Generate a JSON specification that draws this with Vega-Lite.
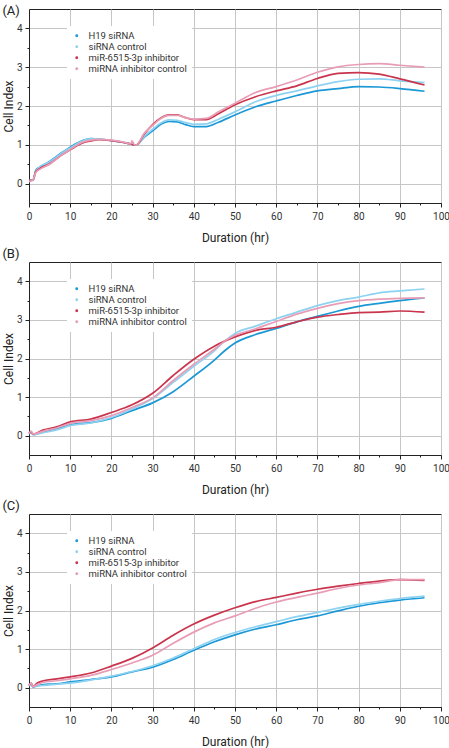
{
"$schema": "https://vega.github.io/schema/vega-lite/v6.json",
"padding": {"left": 1, "top": 4, "right": 0, "bottom": 0},
"background": "white",
"config": {
  "font": "Roboto",
  "view": {"stroke": "#222222", "strokeWidth": 1},
  "axis": {"domainColor": "#222222", "tickColor": "#222222", "gridColor": "#c6c6c6", "gridWidth": 1, "labelColor": "#333333", "labelFontSize": 10, "titleFontSize": 12, "titleFontWeight": "normal", "titleColor": "#222222", "labelFont": "Roboto", "titleFont": "Roboto"},
  "legend": {"labelFont": "Roboto"},
  "title": {"font": "Roboto", "fontWeight": "normal", "fontSize": 13, "color": "#222222"}
},
"spacing": 3,
"resolve": {"legend": {"color": "independent"}},
"data": {"values": [
{"p":"A","s":"H19 siRNA","t":0,"v":0.08},{"p":"A","s":"H19 siRNA","t":1,"v":0.09},{"p":"A","s":"H19 siRNA","t":1.6,"v":0.33},{"p":"A","s":"H19 siRNA","t":2.5,"v":0.42},{"p":"A","s":"H19 siRNA","t":5,"v":0.57},{"p":"A","s":"H19 siRNA","t":8,"v":0.8},{"p":"A","s":"H19 siRNA","t":10,"v":0.94},{"p":"A","s":"H19 siRNA","t":13,"v":1.11},{"p":"A","s":"H19 siRNA","t":15,"v":1.16},{"p":"A","s":"H19 siRNA","t":17,"v":1.15},{"p":"A","s":"H19 siRNA","t":20,"v":1.11},{"p":"A","s":"H19 siRNA","t":23,"v":1.06},{"p":"A","s":"H19 siRNA","t":25,"v":1.01},{"p":"A","s":"H19 siRNA","t":26,"v":0.99},{"p":"A","s":"H19 siRNA","t":28,"v":1.2},{"p":"A","s":"H19 siRNA","t":30,"v":1.36},{"p":"A","s":"H19 siRNA","t":32,"v":1.53},{"p":"A","s":"H19 siRNA","t":34,"v":1.6},{"p":"A","s":"H19 siRNA","t":36,"v":1.59},{"p":"A","s":"H19 siRNA","t":38,"v":1.52},{"p":"A","s":"H19 siRNA","t":40,"v":1.47},{"p":"A","s":"H19 siRNA","t":43,"v":1.47},{"p":"A","s":"H19 siRNA","t":46,"v":1.58},{"p":"A","s":"H19 siRNA","t":50,"v":1.77},{"p":"A","s":"H19 siRNA","t":55,"v":1.98},{"p":"A","s":"H19 siRNA","t":60,"v":2.13},{"p":"A","s":"H19 siRNA","t":65,"v":2.27},{"p":"A","s":"H19 siRNA","t":70,"v":2.39},{"p":"A","s":"H19 siRNA","t":75,"v":2.45},{"p":"A","s":"H19 siRNA","t":80,"v":2.5},{"p":"A","s":"H19 siRNA","t":85,"v":2.49},{"p":"A","s":"H19 siRNA","t":90,"v":2.45},{"p":"A","s":"H19 siRNA","t":96,"v":2.38},
{"p":"A","s":"siRNA control","t":0,"v":0.08},{"p":"A","s":"siRNA control","t":1,"v":0.09},{"p":"A","s":"siRNA control","t":1.6,"v":0.3},{"p":"A","s":"siRNA control","t":2.5,"v":0.42},{"p":"A","s":"siRNA control","t":5,"v":0.56},{"p":"A","s":"siRNA control","t":8,"v":0.79},{"p":"A","s":"siRNA control","t":10,"v":0.92},{"p":"A","s":"siRNA control","t":13,"v":1.1},{"p":"A","s":"siRNA control","t":15,"v":1.16},{"p":"A","s":"siRNA control","t":17,"v":1.15},{"p":"A","s":"siRNA control","t":20,"v":1.11},{"p":"A","s":"siRNA control","t":23,"v":1.06},{"p":"A","s":"siRNA control","t":25,"v":1.01},{"p":"A","s":"siRNA control","t":26,"v":0.99},{"p":"A","s":"siRNA control","t":28,"v":1.22},{"p":"A","s":"siRNA control","t":30,"v":1.4},{"p":"A","s":"siRNA control","t":32,"v":1.56},{"p":"A","s":"siRNA control","t":34,"v":1.64},{"p":"A","s":"siRNA control","t":36,"v":1.63},{"p":"A","s":"siRNA control","t":38,"v":1.57},{"p":"A","s":"siRNA control","t":40,"v":1.53},{"p":"A","s":"siRNA control","t":43,"v":1.54},{"p":"A","s":"siRNA control","t":46,"v":1.66},{"p":"A","s":"siRNA control","t":50,"v":1.85},{"p":"A","s":"siRNA control","t":55,"v":2.11},{"p":"A","s":"siRNA control","t":60,"v":2.27},{"p":"A","s":"siRNA control","t":65,"v":2.39},{"p":"A","s":"siRNA control","t":70,"v":2.52},{"p":"A","s":"siRNA control","t":75,"v":2.63},{"p":"A","s":"siRNA control","t":80,"v":2.69},{"p":"A","s":"siRNA control","t":85,"v":2.7},{"p":"A","s":"siRNA control","t":90,"v":2.65},{"p":"A","s":"siRNA control","t":96,"v":2.6},
{"p":"A","s":"miR-6515-3p inhibitor","t":0,"v":0.08},{"p":"A","s":"miR-6515-3p inhibitor","t":1,"v":0.1},{"p":"A","s":"miR-6515-3p inhibitor","t":1.6,"v":0.3},{"p":"A","s":"miR-6515-3p inhibitor","t":2.5,"v":0.38},{"p":"A","s":"miR-6515-3p inhibitor","t":5,"v":0.51},{"p":"A","s":"miR-6515-3p inhibitor","t":8,"v":0.74},{"p":"A","s":"miR-6515-3p inhibitor","t":10,"v":0.87},{"p":"A","s":"miR-6515-3p inhibitor","t":13,"v":1.05},{"p":"A","s":"miR-6515-3p inhibitor","t":15,"v":1.1},{"p":"A","s":"miR-6515-3p inhibitor","t":17,"v":1.13},{"p":"A","s":"miR-6515-3p inhibitor","t":20,"v":1.11},{"p":"A","s":"miR-6515-3p inhibitor","t":23,"v":1.06},{"p":"A","s":"miR-6515-3p inhibitor","t":25,"v":1.01},{"p":"A","s":"miR-6515-3p inhibitor","t":26,"v":0.99},{"p":"A","s":"miR-6515-3p inhibitor","t":28,"v":1.28},{"p":"A","s":"miR-6515-3p inhibitor","t":30,"v":1.52},{"p":"A","s":"miR-6515-3p inhibitor","t":32,"v":1.69},{"p":"A","s":"miR-6515-3p inhibitor","t":34,"v":1.77},{"p":"A","s":"miR-6515-3p inhibitor","t":36,"v":1.77},{"p":"A","s":"miR-6515-3p inhibitor","t":38,"v":1.7},{"p":"A","s":"miR-6515-3p inhibitor","t":40,"v":1.65},{"p":"A","s":"miR-6515-3p inhibitor","t":43,"v":1.65},{"p":"A","s":"miR-6515-3p inhibitor","t":46,"v":1.8},{"p":"A","s":"miR-6515-3p inhibitor","t":50,"v":2.03},{"p":"A","s":"miR-6515-3p inhibitor","t":55,"v":2.24},{"p":"A","s":"miR-6515-3p inhibitor","t":60,"v":2.39},{"p":"A","s":"miR-6515-3p inhibitor","t":65,"v":2.52},{"p":"A","s":"miR-6515-3p inhibitor","t":70,"v":2.71},{"p":"A","s":"miR-6515-3p inhibitor","t":75,"v":2.84},{"p":"A","s":"miR-6515-3p inhibitor","t":80,"v":2.86},{"p":"A","s":"miR-6515-3p inhibitor","t":85,"v":2.82},{"p":"A","s":"miR-6515-3p inhibitor","t":90,"v":2.7},{"p":"A","s":"miR-6515-3p inhibitor","t":96,"v":2.54},
{"p":"A","s":"miRNA inhibitor control","t":0,"v":0.05},{"p":"A","s":"miRNA inhibitor control","t":1,"v":0.1},{"p":"A","s":"miRNA inhibitor control","t":1.6,"v":0.28},{"p":"A","s":"miRNA inhibitor control","t":2.5,"v":0.36},{"p":"A","s":"miRNA inhibitor control","t":5,"v":0.5},{"p":"A","s":"miRNA inhibitor control","t":8,"v":0.74},{"p":"A","s":"miRNA inhibitor control","t":10,"v":0.88},{"p":"A","s":"miRNA inhibitor control","t":13,"v":1.07},{"p":"A","s":"miRNA inhibitor control","t":15,"v":1.12},{"p":"A","s":"miRNA inhibitor control","t":17,"v":1.14},{"p":"A","s":"miRNA inhibitor control","t":20,"v":1.12},{"p":"A","s":"miRNA inhibitor control","t":23,"v":1.07},{"p":"A","s":"miRNA inhibitor control","t":24.7,"v":1.02},{"p":"A","s":"miRNA inhibitor control","t":25,"v":1.1},{"p":"A","s":"miRNA inhibitor control","t":25.5,"v":1.01},{"p":"A","s":"miRNA inhibitor control","t":26,"v":0.99},{"p":"A","s":"miRNA inhibitor control","t":28,"v":1.3},{"p":"A","s":"miRNA inhibitor control","t":30,"v":1.5},{"p":"A","s":"miRNA inhibitor control","t":32,"v":1.68},{"p":"A","s":"miRNA inhibitor control","t":34,"v":1.76},{"p":"A","s":"miRNA inhibitor control","t":36,"v":1.76},{"p":"A","s":"miRNA inhibitor control","t":38,"v":1.7},{"p":"A","s":"miRNA inhibitor control","t":40,"v":1.66},{"p":"A","s":"miRNA inhibitor control","t":43,"v":1.68},{"p":"A","s":"miRNA inhibitor control","t":46,"v":1.85},{"p":"A","s":"miRNA inhibitor control","t":50,"v":2.07},{"p":"A","s":"miRNA inhibitor control","t":55,"v":2.35},{"p":"A","s":"miRNA inhibitor control","t":60,"v":2.5},{"p":"A","s":"miRNA inhibitor control","t":65,"v":2.67},{"p":"A","s":"miRNA inhibitor control","t":70,"v":2.87},{"p":"A","s":"miRNA inhibitor control","t":75,"v":3.01},{"p":"A","s":"miRNA inhibitor control","t":80,"v":3.07},{"p":"A","s":"miRNA inhibitor control","t":85,"v":3.09},{"p":"A","s":"miRNA inhibitor control","t":90,"v":3.05},{"p":"A","s":"miRNA inhibitor control","t":96,"v":3.0},
{"p":"B","s":"H19 siRNA","t":0,"v":0.05},{"p":"B","s":"H19 siRNA","t":0.5,"v":0.08},{"p":"B","s":"H19 siRNA","t":1,"v":0.03},{"p":"B","s":"H19 siRNA","t":3.5,"v":0.1},{"p":"B","s":"H19 siRNA","t":6.7,"v":0.17},{"p":"B","s":"H19 siRNA","t":10,"v":0.28},{"p":"B","s":"H19 siRNA","t":15,"v":0.34},{"p":"B","s":"H19 siRNA","t":20,"v":0.45},{"p":"B","s":"H19 siRNA","t":25,"v":0.65},{"p":"B","s":"H19 siRNA","t":30,"v":0.85},{"p":"B","s":"H19 siRNA","t":35,"v":1.14},{"p":"B","s":"H19 siRNA","t":40,"v":1.54},{"p":"B","s":"H19 siRNA","t":45,"v":1.96},{"p":"B","s":"H19 siRNA","t":47.5,"v":2.2},{"p":"B","s":"H19 siRNA","t":50,"v":2.4},{"p":"B","s":"H19 siRNA","t":55,"v":2.62},{"p":"B","s":"H19 siRNA","t":60,"v":2.78},{"p":"B","s":"H19 siRNA","t":65,"v":2.95},{"p":"B","s":"H19 siRNA","t":70,"v":3.09},{"p":"B","s":"H19 siRNA","t":75,"v":3.23},{"p":"B","s":"H19 siRNA","t":80,"v":3.35},{"p":"B","s":"H19 siRNA","t":85,"v":3.43},{"p":"B","s":"H19 siRNA","t":90,"v":3.5},{"p":"B","s":"H19 siRNA","t":96,"v":3.57},
{"p":"B","s":"siRNA control","t":0,"v":0.05},{"p":"B","s":"siRNA control","t":0.5,"v":0.08},{"p":"B","s":"siRNA control","t":1,"v":0.03},{"p":"B","s":"siRNA control","t":3.5,"v":0.08},{"p":"B","s":"siRNA control","t":6.7,"v":0.15},{"p":"B","s":"siRNA control","t":10,"v":0.26},{"p":"B","s":"siRNA control","t":15,"v":0.33},{"p":"B","s":"siRNA control","t":20,"v":0.47},{"p":"B","s":"siRNA control","t":25,"v":0.69},{"p":"B","s":"siRNA control","t":30,"v":0.96},{"p":"B","s":"siRNA control","t":35,"v":1.38},{"p":"B","s":"siRNA control","t":40,"v":1.8},{"p":"B","s":"siRNA control","t":45,"v":2.2},{"p":"B","s":"siRNA control","t":47.5,"v":2.45},{"p":"B","s":"siRNA control","t":50,"v":2.65},{"p":"B","s":"siRNA control","t":55,"v":2.84},{"p":"B","s":"siRNA control","t":60,"v":3.03},{"p":"B","s":"siRNA control","t":65,"v":3.2},{"p":"B","s":"siRNA control","t":70,"v":3.37},{"p":"B","s":"siRNA control","t":75,"v":3.5},{"p":"B","s":"siRNA control","t":80,"v":3.59},{"p":"B","s":"siRNA control","t":85,"v":3.7},{"p":"B","s":"siRNA control","t":90,"v":3.75},{"p":"B","s":"siRNA control","t":96,"v":3.8},
{"p":"B","s":"miR-6515-3p inhibitor","t":0,"v":0.06},{"p":"B","s":"miR-6515-3p inhibitor","t":0.5,"v":0.1},{"p":"B","s":"miR-6515-3p inhibitor","t":1,"v":0.04},{"p":"B","s":"miR-6515-3p inhibitor","t":3.5,"v":0.15},{"p":"B","s":"miR-6515-3p inhibitor","t":6.7,"v":0.23},{"p":"B","s":"miR-6515-3p inhibitor","t":10,"v":0.36},{"p":"B","s":"miR-6515-3p inhibitor","t":15,"v":0.43},{"p":"B","s":"miR-6515-3p inhibitor","t":20,"v":0.6},{"p":"B","s":"miR-6515-3p inhibitor","t":25,"v":0.8},{"p":"B","s":"miR-6515-3p inhibitor","t":30,"v":1.1},{"p":"B","s":"miR-6515-3p inhibitor","t":35,"v":1.56},{"p":"B","s":"miR-6515-3p inhibitor","t":40,"v":1.98},{"p":"B","s":"miR-6515-3p inhibitor","t":45,"v":2.32},{"p":"B","s":"miR-6515-3p inhibitor","t":47.5,"v":2.45},{"p":"B","s":"miR-6515-3p inhibitor","t":50,"v":2.56},{"p":"B","s":"miR-6515-3p inhibitor","t":55,"v":2.73},{"p":"B","s":"miR-6515-3p inhibitor","t":60,"v":2.81},{"p":"B","s":"miR-6515-3p inhibitor","t":65,"v":2.95},{"p":"B","s":"miR-6515-3p inhibitor","t":70,"v":3.07},{"p":"B","s":"miR-6515-3p inhibitor","t":75,"v":3.14},{"p":"B","s":"miR-6515-3p inhibitor","t":80,"v":3.19},{"p":"B","s":"miR-6515-3p inhibitor","t":85,"v":3.2},{"p":"B","s":"miR-6515-3p inhibitor","t":90,"v":3.23},{"p":"B","s":"miR-6515-3p inhibitor","t":96,"v":3.2},
{"p":"B","s":"miRNA inhibitor control","t":0,"v":0.06},{"p":"B","s":"miRNA inhibitor control","t":0.5,"v":0.12},{"p":"B","s":"miRNA inhibitor control","t":1,"v":0.04},{"p":"B","s":"miRNA inhibitor control","t":3.5,"v":0.12},{"p":"B","s":"miRNA inhibitor control","t":6.7,"v":0.2},{"p":"B","s":"miRNA inhibitor control","t":10,"v":0.32},{"p":"B","s":"miRNA inhibitor control","t":15,"v":0.39},{"p":"B","s":"miRNA inhibitor control","t":20,"v":0.52},{"p":"B","s":"miRNA inhibitor control","t":25,"v":0.73},{"p":"B","s":"miRNA inhibitor control","t":30,"v":0.98},{"p":"B","s":"miRNA inhibitor control","t":35,"v":1.43},{"p":"B","s":"miRNA inhibitor control","t":40,"v":1.85},{"p":"B","s":"miRNA inhibitor control","t":45,"v":2.24},{"p":"B","s":"miRNA inhibitor control","t":47.5,"v":2.45},{"p":"B","s":"miRNA inhibitor control","t":50,"v":2.6},{"p":"B","s":"miRNA inhibitor control","t":55,"v":2.77},{"p":"B","s":"miRNA inhibitor control","t":60,"v":2.96},{"p":"B","s":"miRNA inhibitor control","t":65,"v":3.15},{"p":"B","s":"miRNA inhibitor control","t":70,"v":3.3},{"p":"B","s":"miRNA inhibitor control","t":75,"v":3.42},{"p":"B","s":"miRNA inhibitor control","t":80,"v":3.5},{"p":"B","s":"miRNA inhibitor control","t":85,"v":3.54},{"p":"B","s":"miRNA inhibitor control","t":90,"v":3.56},{"p":"B","s":"miRNA inhibitor control","t":96,"v":3.57},
{"p":"C","s":"H19 siRNA","t":0,"v":0.05},{"p":"C","s":"H19 siRNA","t":0.5,"v":0.08},{"p":"C","s":"H19 siRNA","t":1,"v":0.02},{"p":"C","s":"H19 siRNA","t":2,"v":0.05},{"p":"C","s":"H19 siRNA","t":3.5,"v":0.08},{"p":"C","s":"H19 siRNA","t":6.7,"v":0.1},{"p":"C","s":"H19 siRNA","t":10,"v":0.15},{"p":"C","s":"H19 siRNA","t":15,"v":0.21},{"p":"C","s":"H19 siRNA","t":20,"v":0.28},{"p":"C","s":"H19 siRNA","t":25,"v":0.41},{"p":"C","s":"H19 siRNA","t":30,"v":0.53},{"p":"C","s":"H19 siRNA","t":35,"v":0.73},{"p":"C","s":"H19 siRNA","t":40,"v":0.97},{"p":"C","s":"H19 siRNA","t":45,"v":1.19},{"p":"C","s":"H19 siRNA","t":50,"v":1.37},{"p":"C","s":"H19 siRNA","t":55,"v":1.52},{"p":"C","s":"H19 siRNA","t":60,"v":1.63},{"p":"C","s":"H19 siRNA","t":65,"v":1.76},{"p":"C","s":"H19 siRNA","t":70,"v":1.86},{"p":"C","s":"H19 siRNA","t":75,"v":1.99},{"p":"C","s":"H19 siRNA","t":80,"v":2.11},{"p":"C","s":"H19 siRNA","t":85,"v":2.2},{"p":"C","s":"H19 siRNA","t":90,"v":2.27},{"p":"C","s":"H19 siRNA","t":96,"v":2.33},
{"p":"C","s":"siRNA control","t":0,"v":0.05},{"p":"C","s":"siRNA control","t":0.5,"v":0.08},{"p":"C","s":"siRNA control","t":1,"v":0.02},{"p":"C","s":"siRNA control","t":2,"v":0.04},{"p":"C","s":"siRNA control","t":3.5,"v":0.06},{"p":"C","s":"siRNA control","t":6.7,"v":0.09},{"p":"C","s":"siRNA control","t":10,"v":0.12},{"p":"C","s":"siRNA control","t":15,"v":0.2},{"p":"C","s":"siRNA control","t":20,"v":0.3},{"p":"C","s":"siRNA control","t":25,"v":0.42},{"p":"C","s":"siRNA control","t":30,"v":0.57},{"p":"C","s":"siRNA control","t":35,"v":0.77},{"p":"C","s":"siRNA control","t":40,"v":1.01},{"p":"C","s":"siRNA control","t":45,"v":1.25},{"p":"C","s":"siRNA control","t":50,"v":1.43},{"p":"C","s":"siRNA control","t":55,"v":1.58},{"p":"C","s":"siRNA control","t":60,"v":1.71},{"p":"C","s":"siRNA control","t":65,"v":1.84},{"p":"C","s":"siRNA control","t":70,"v":1.95},{"p":"C","s":"siRNA control","t":75,"v":2.06},{"p":"C","s":"siRNA control","t":80,"v":2.16},{"p":"C","s":"siRNA control","t":85,"v":2.24},{"p":"C","s":"siRNA control","t":90,"v":2.31},{"p":"C","s":"siRNA control","t":96,"v":2.37},
{"p":"C","s":"miR-6515-3p inhibitor","t":0,"v":0.06},{"p":"C","s":"miR-6515-3p inhibitor","t":0.5,"v":0.12},{"p":"C","s":"miR-6515-3p inhibitor","t":1,"v":0.03},{"p":"C","s":"miR-6515-3p inhibitor","t":2,"v":0.12},{"p":"C","s":"miR-6515-3p inhibitor","t":3.5,"v":0.18},{"p":"C","s":"miR-6515-3p inhibitor","t":6.7,"v":0.23},{"p":"C","s":"miR-6515-3p inhibitor","t":10,"v":0.28},{"p":"C","s":"miR-6515-3p inhibitor","t":15,"v":0.38},{"p":"C","s":"miR-6515-3p inhibitor","t":20,"v":0.56},{"p":"C","s":"miR-6515-3p inhibitor","t":25,"v":0.76},{"p":"C","s":"miR-6515-3p inhibitor","t":30,"v":1.03},{"p":"C","s":"miR-6515-3p inhibitor","t":35,"v":1.36},{"p":"C","s":"miR-6515-3p inhibitor","t":40,"v":1.65},{"p":"C","s":"miR-6515-3p inhibitor","t":45,"v":1.88},{"p":"C","s":"miR-6515-3p inhibitor","t":50,"v":2.07},{"p":"C","s":"miR-6515-3p inhibitor","t":55,"v":2.23},{"p":"C","s":"miR-6515-3p inhibitor","t":60,"v":2.34},{"p":"C","s":"miR-6515-3p inhibitor","t":65,"v":2.45},{"p":"C","s":"miR-6515-3p inhibitor","t":70,"v":2.55},{"p":"C","s":"miR-6515-3p inhibitor","t":75,"v":2.63},{"p":"C","s":"miR-6515-3p inhibitor","t":80,"v":2.7},{"p":"C","s":"miR-6515-3p inhibitor","t":85,"v":2.76},{"p":"C","s":"miR-6515-3p inhibitor","t":90,"v":2.8},{"p":"C","s":"miR-6515-3p inhibitor","t":96,"v":2.78},
{"p":"C","s":"miRNA inhibitor control","t":0,"v":0.06},{"p":"C","s":"miRNA inhibitor control","t":0.5,"v":0.12},{"p":"C","s":"miRNA inhibitor control","t":1,"v":0.03},{"p":"C","s":"miRNA inhibitor control","t":2,"v":0.08},{"p":"C","s":"miRNA inhibitor control","t":3.5,"v":0.14},{"p":"C","s":"miRNA inhibitor control","t":6.7,"v":0.18},{"p":"C","s":"miRNA inhibitor control","t":10,"v":0.23},{"p":"C","s":"miRNA inhibitor control","t":15,"v":0.32},{"p":"C","s":"miRNA inhibitor control","t":20,"v":0.47},{"p":"C","s":"miRNA inhibitor control","t":25,"v":0.64},{"p":"C","s":"miRNA inhibitor control","t":30,"v":0.84},{"p":"C","s":"miRNA inhibitor control","t":35,"v":1.15},{"p":"C","s":"miRNA inhibitor control","t":40,"v":1.44},{"p":"C","s":"miRNA inhibitor control","t":45,"v":1.68},{"p":"C","s":"miRNA inhibitor control","t":50,"v":1.86},{"p":"C","s":"miRNA inhibitor control","t":55,"v":2.06},{"p":"C","s":"miRNA inhibitor control","t":60,"v":2.22},{"p":"C","s":"miRNA inhibitor control","t":65,"v":2.34},{"p":"C","s":"miRNA inhibitor control","t":70,"v":2.45},{"p":"C","s":"miRNA inhibitor control","t":75,"v":2.57},{"p":"C","s":"miRNA inhibitor control","t":80,"v":2.66},{"p":"C","s":"miRNA inhibitor control","t":85,"v":2.72},{"p":"C","s":"miRNA inhibitor control","t":90,"v":2.8},{"p":"C","s":"miRNA inhibitor control","t":96,"v":2.8}
]},
"vconcat": [
{
 "title": {"text": "(A)", "anchor": "start", "frame": "bounds", "offset": -9},
 "width": 412, "height": 194,
 "transform": [{"filter": "datum.p === 'A'"}],
 "mark": {"type": "line", "strokeWidth": 1.7, "interpolate": "monotone"},
 "encoding": {
  "x": {"field": "t", "type": "quantitative", "title": "Duration (hr)", "scale": {"domain": [0, 100], "nice": false},
   "axis": {"values": [0,5,10,15,20,25,30,35,40,45,50,55,60,65,70,75,80,85,90,95,100], "format": "d", "labelExpr": "datum.value % 10 === 0 ? datum.label : ''", "labelFlush": false, "labelPadding": 4, "titlePadding": 11,
    "tickSize": {"condition": {"test": "datum.value % 10 === 0", "value": 4}, "value": 2},
    "gridOpacity": {"condition": {"test": "datum.value % 10 === 0", "value": 1}, "value": 0}}},
  "y": {"field": "v", "type": "quantitative", "title": "Cell Index", "scale": {"domain": [-0.5, 4.5], "nice": false, "zero": false},
   "axis": {"values": [0,0.5,1,1.5,2,2.5,3,3.5,4], "format": ".0f", "labelExpr": "datum.value % 1 === 0 ? datum.label : ''", "labelPadding": 3, "titlePadding": 1,
    "tickSize": {"condition": {"test": "datum.value % 1 === 0", "value": 4}, "value": 2},
    "gridOpacity": {"condition": {"test": "datum.value % 1 === 0", "value": 1}, "value": 0}}},
  "color": {"field": "s", "type": "nominal", "sort": ["H19 siRNA", "siRNA control", "miR-6515-3p inhibitor", "miRNA inhibitor control"],
   "scale": {"domain": ["H19 siRNA", "siRNA control", "miR-6515-3p inhibitor", "miRNA inhibitor control"], "range": ["#1b98d5", "#8ed2f2", "#c9354d", "#e89db6"]},
   "legend": {"title": null, "orient": "none", "legendX": 38, "legendY": 17, "fillColor": "white", "padding": 5, "symbolType": "circle", "symbolSize": 2, "symbolStrokeWidth": 1.5, "labelFontSize": 9.5, "labelColor": "#333333", "labelOffset": 7, "rowPadding": 0}}
 }
},
{
 "title": {"text": "(B)", "anchor": "start", "frame": "bounds", "offset": 1},
 "width": 412, "height": 193,
 "transform": [{"filter": "datum.p === 'B'"}],
 "mark": {"type": "line", "strokeWidth": 1.7, "interpolate": "monotone"},
 "encoding": {
  "x": {"field": "t", "type": "quantitative", "title": "Duration (hr)", "scale": {"domain": [0, 100], "nice": false},
   "axis": {"values": [0,5,10,15,20,25,30,35,40,45,50,55,60,65,70,75,80,85,90,95,100], "format": "d", "labelExpr": "datum.value % 10 === 0 ? datum.label : ''", "labelFlush": false, "labelPadding": 4, "titlePadding": 11,
    "tickSize": {"condition": {"test": "datum.value % 10 === 0", "value": 4}, "value": 2},
    "gridOpacity": {"condition": {"test": "datum.value % 10 === 0", "value": 1}, "value": 0}}},
  "y": {"field": "v", "type": "quantitative", "title": "Cell Index", "scale": {"domain": [-0.5, 4.5], "nice": false, "zero": false},
   "axis": {"values": [0,0.5,1,1.5,2,2.5,3,3.5,4], "format": ".0f", "labelExpr": "datum.value % 1 === 0 ? datum.label : ''", "labelPadding": 3, "titlePadding": 1,
    "tickSize": {"condition": {"test": "datum.value % 1 === 0", "value": 4}, "value": 2},
    "gridOpacity": {"condition": {"test": "datum.value % 1 === 0", "value": 1}, "value": 0}}},
  "color": {"field": "s", "type": "nominal", "sort": ["H19 siRNA", "siRNA control", "miR-6515-3p inhibitor", "miRNA inhibitor control"],
   "scale": {"domain": ["H19 siRNA", "siRNA control", "miR-6515-3p inhibitor", "miRNA inhibitor control"], "range": ["#1b98d5", "#8ed2f2", "#c9354d", "#e89db6"]},
   "legend": {"title": null, "orient": "none", "legendX": 38, "legendY": 17, "fillColor": "white", "padding": 5, "symbolType": "circle", "symbolSize": 2, "symbolStrokeWidth": 1.5, "labelFontSize": 9.5, "labelColor": "#333333", "labelOffset": 7, "rowPadding": 0}}
 }
},
{
 "title": {"text": "(C)", "anchor": "start", "frame": "bounds", "offset": 1},
 "width": 412, "height": 193,
 "transform": [{"filter": "datum.p === 'C'"}],
 "mark": {"type": "line", "strokeWidth": 1.7, "interpolate": "monotone"},
 "encoding": {
  "x": {"field": "t", "type": "quantitative", "title": "Duration (hr)", "scale": {"domain": [0, 100], "nice": false},
   "axis": {"values": [0,5,10,15,20,25,30,35,40,45,50,55,60,65,70,75,80,85,90,95,100], "format": "d", "labelExpr": "datum.value % 10 === 0 ? datum.label : ''", "labelFlush": false, "labelPadding": 4, "titlePadding": 11,
    "tickSize": {"condition": {"test": "datum.value % 10 === 0", "value": 4}, "value": 2},
    "gridOpacity": {"condition": {"test": "datum.value % 10 === 0", "value": 1}, "value": 0}}},
  "y": {"field": "v", "type": "quantitative", "title": "Cell Index", "scale": {"domain": [-0.5, 4.5], "nice": false, "zero": false},
   "axis": {"values": [0,0.5,1,1.5,2,2.5,3,3.5,4], "format": ".0f", "labelExpr": "datum.value % 1 === 0 ? datum.label : ''", "labelPadding": 3, "titlePadding": 1,
    "tickSize": {"condition": {"test": "datum.value % 1 === 0", "value": 4}, "value": 2},
    "gridOpacity": {"condition": {"test": "datum.value % 1 === 0", "value": 1}, "value": 0}}},
  "color": {"field": "s", "type": "nominal", "sort": ["H19 siRNA", "siRNA control", "miR-6515-3p inhibitor", "miRNA inhibitor control"],
   "scale": {"domain": ["H19 siRNA", "siRNA control", "miR-6515-3p inhibitor", "miRNA inhibitor control"], "range": ["#1b98d5", "#8ed2f2", "#c9354d", "#e89db6"]},
   "legend": {"title": null, "orient": "none", "legendX": 38, "legendY": 17, "fillColor": "white", "padding": 5, "symbolType": "circle", "symbolSize": 2, "symbolStrokeWidth": 1.5, "labelFontSize": 9.5, "labelColor": "#333333", "labelOffset": 7, "rowPadding": 0}}
 }
}
]
}
